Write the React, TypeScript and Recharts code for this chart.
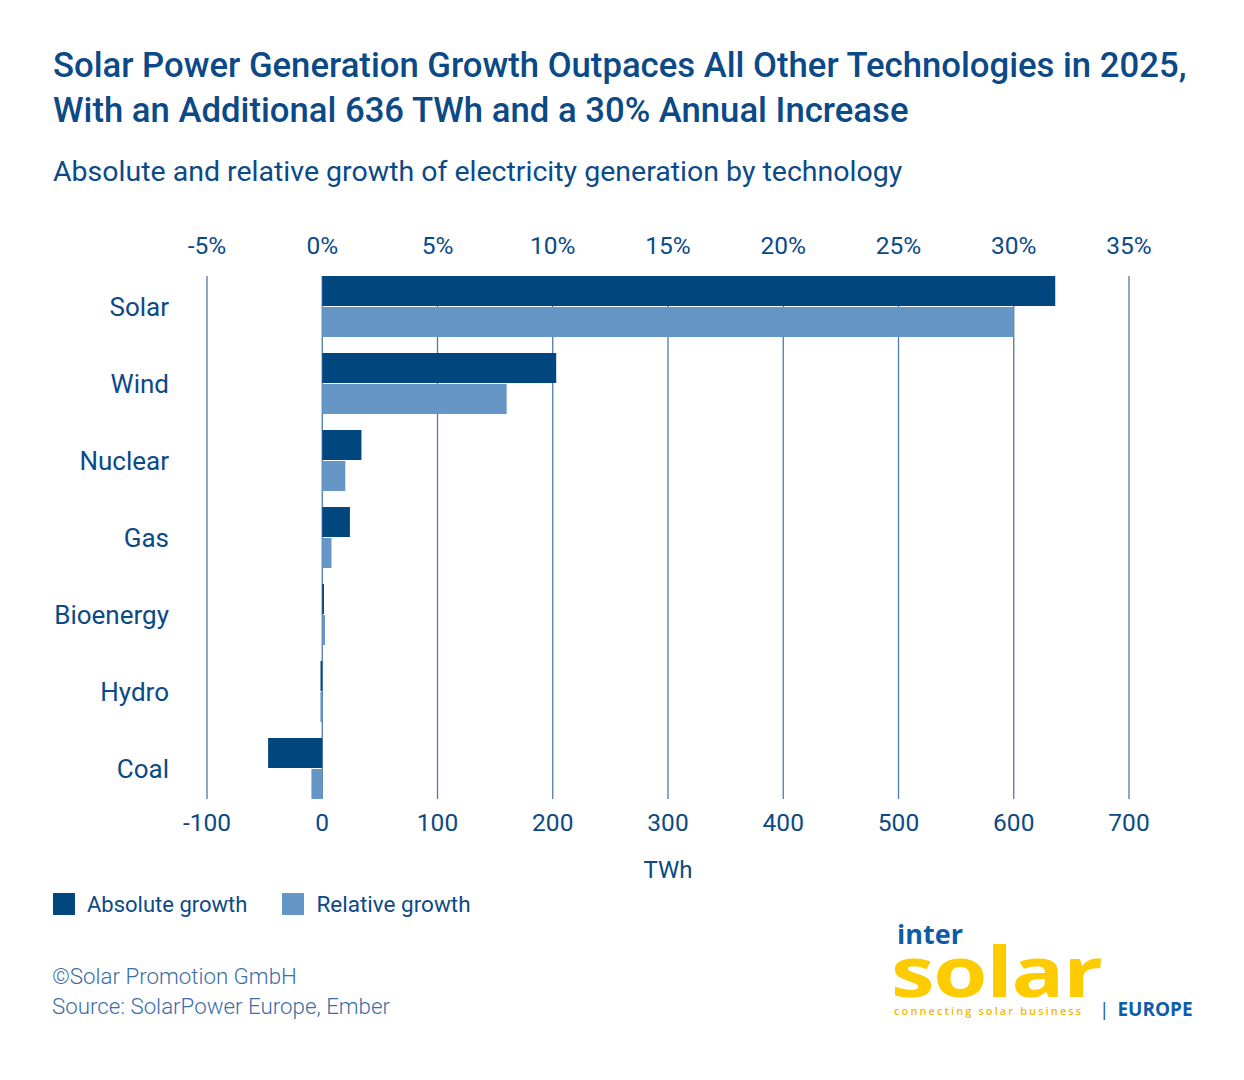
import React from "react";
import { BarChart, Bar, XAxis, YAxis, CartesianGrid } from "recharts";

const CATEGORIES = ["Solar", "Wind", "Nuclear", "Gas", "Bioenergy", "Hydro", "Coal"];
const ABSOLUTE_TWH = [636, 203, 34, 24, 1.5, -1.5, -47];
const RELATIVE_PCT = [30.0, 8.0, 1.0, 0.4, 0.12, -0.08, -0.47];
const TWH_TICKS = [-100, 0, 100, 200, 300, 400, 500, 600, 700];
const PCT_TICKS = [-5, 0, 5, 10, 15, 20, 25, 30, 35];

const DARK = "#00467f";
const LIGHT = "#6596c6";
const TEXT = "#0b4a86";
const GRID = "#4f79a8";
const FONT = "Roboto, 'Noto Sans', sans-serif";

const data = CATEGORIES.map((name, i) => ({
  name,
  absolute: ABSOLUTE_TWH[i],
  relative: RELATIVE_PCT[i],
}));

// grid lines only span the bars, not the full band padding
const GridLine = (props: any) => (
  <line
    key={props.key}
    x1={props.x1}
    x2={props.x2}
    y1={props.y1 + 8}
    y2={props.y2 - 8}
    stroke={GRID}
    strokeWidth={1.3}
  />
);

export default function App() {
  const tickStyle = { fill: TEXT, fontSize: 24.5, fontFamily: FONT };
  return (
    <div style={{ position: "relative", width: 1244, height: 1080, background: "#fff", fontFamily: FONT, color: TEXT }}>
      <style>{`body{margin:0}`}</style>
      <div style={{ position: "absolute", left: 53, top: 43, fontSize: 34.7, fontWeight: 500, lineHeight: "45px", whiteSpace: "nowrap" }}>
        Solar Power Generation Growth Outpaces All Other Technologies in 2025,
        <br />
        With an Additional 636 TWh and a 30% Annual Increase
      </div>
      <div style={{ position: "absolute", left: 53, top: 155, fontSize: 28.5, whiteSpace: "nowrap" }}>
        Absolute and relative growth of electricity generation by technology
      </div>

      <div style={{ position: "absolute", left: 0, top: 0 }}>
        <BarChart
          width={1244}
          height={900}
          data={data}
          layout="vertical"
          barSize={30}
          barGap={1}
          margin={{ top: 238, right: 115, bottom: 33, left: 27 }}
        >
          <CartesianGrid xAxisId="twh" horizontal={false} vertical={GridLine} />
          <XAxis
            xAxisId="twh"
            type="number"
            orientation="bottom"
            domain={[-100, 700]}
            ticks={TWH_TICKS}
            axisLine={false}
            tickLine={false}
            tickSize={0}
            tickMargin={7}
            height={60}
            tick={tickStyle}
            interval={0}
          />
          <XAxis
            xAxisId="pct"
            type="number"
            orientation="top"
            domain={[-5, 35]}
            ticks={PCT_TICKS}
            axisLine={false}
            tickLine={false}
            tickSize={0}
            tickMargin={14}
            height={30}
            tick={tickStyle}
            tickFormatter={(v) => `${v}%`}
            interval={0}
          />
          <YAxis
            type="category"
            dataKey="name"
            width={180}
            axisLine={false}
            tickLine={false}
            tickSize={0}
            tickMargin={38}
            tick={{ ...tickStyle, fontSize: 26 }}
            interval={0}
          />
          <Bar xAxisId="twh" dataKey="absolute" fill={DARK} isAnimationActive={false} />
          <Bar xAxisId="pct" dataKey="relative" fill={LIGHT} isAnimationActive={false} />
        </BarChart>
      </div>

      <div style={{ position: "absolute", left: 668, top: 856, transform: "translateX(-50%)", fontSize: 24 }}>TWh</div>

      <div style={{ position: "absolute", left: 53, top: 891, display: "flex", alignItems: "center", fontSize: 22 }}>
        <span style={{ width: 22, height: 22, background: DARK, display: "inline-block", marginRight: 12 }} />
        <span style={{ marginRight: 35 }}>Absolute growth</span>
        <span style={{ width: 22, height: 22, background: LIGHT, display: "inline-block", marginRight: 12 }} />
        <span style={{ fontSize: 22.5 }}>Relative growth</span>
      </div>

      <div style={{ position: "absolute", left: 52, top: 961, fontSize: 22.3, fontWeight: 300, color: "#3a6ea6", lineHeight: "30px" }}>
        ©Solar Promotion GmbH
        <br />
        Source: SolarPower Europe, Ember
      </div>

      {/* logo */}
      <div style={{ position: "absolute", left: 893, top: 918, width: 320, height: 110, fontFamily: "'Open Sans', sans-serif" }}>
        <div style={{ position: "absolute", left: 4, top: 5, fontSize: 27, fontWeight: 700, color: "#0d5ca8", lineHeight: "22px" }}>inter</div>
        <div style={{ position: "absolute", left: -2, top: 32, fontSize: 70, fontWeight: 700, color: "#fccb00", lineHeight: "40px", letterSpacing: -1, transform: "scaleX(1.25)", transformOrigin: "left" }}>solar</div>
        <div style={{ position: "absolute", left: 1, top: 86, fontSize: 11, fontWeight: 600, color: "#f6b800", letterSpacing: 2.1, lineHeight: "14px", whiteSpace: "nowrap" }}>connecting solar business</div>
        <div style={{ position: "absolute", left: 206, top: 80, fontSize: 19, fontWeight: 700, color: "#0d5ca8", whiteSpace: "nowrap", lineHeight: "22px" }}>
          <span style={{ fontWeight: 400, marginRight: 8 }}>|</span>EUROPE
        </div>
      </div>
    </div>
  );
}
